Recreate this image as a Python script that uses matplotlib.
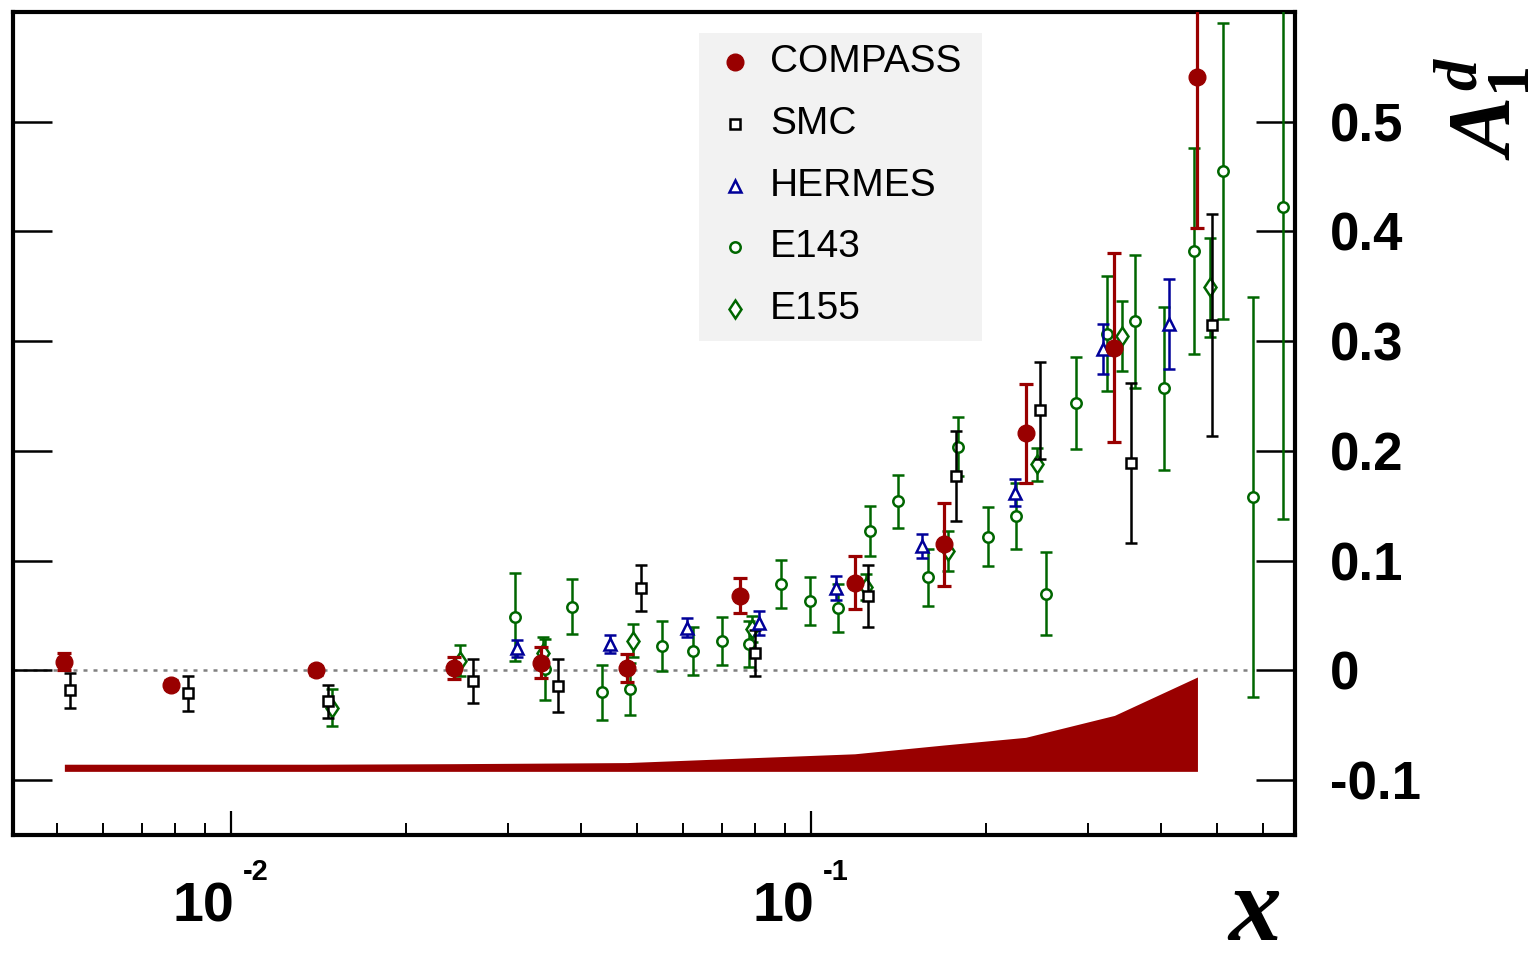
import matplotlib
matplotlib.use('Agg')
import matplotlib.pyplot as plt
import matplotlib.transforms as mtransforms
from matplotlib.patches import Rectangle

plt.rcParams['font.family'] = ['Liberation Sans', 'DejaVu Sans']
plt.rcParams['mathtext.fontset'] = 'custom'
plt.rcParams['mathtext.rm'] = 'Liberation Serif:bold'
plt.rcParams['mathtext.it'] = 'Liberation Serif:italic:bold'

# --- data ---
compass_x = [0.00515, 0.00788, 0.0140, 0.0242, 0.0342, 0.0481, 0.0752, 0.1187, 0.169, 0.234, 0.333, 0.463]
compass_y = [0.008, -0.013, 0.000, 0.002, 0.007, 0.002, 0.068, 0.080, 0.115, 0.216, 0.294, 0.541]
compass_err = [0.008, 0.004, 0.004, 0.010, 0.014, 0.013, 0.016, 0.024, 0.038, 0.045, 0.086, 0.138]
compass_sys = [0.0065, 0.0065, 0.0065, 0.007, 0.0075, 0.008, 0.012, 0.016, 0.024, 0.031, 0.051, 0.086]
sys_base = -0.092

smc_x = [0.00526, 0.00840, 0.01465, 0.0261, 0.0365, 0.0509, 0.0799, 0.125, 0.1772, 0.248, 0.356, 0.491]
smc_y = [-0.018, -0.021, -0.028, -0.010, -0.014, 0.075, 0.016, 0.068, 0.177, 0.237, 0.189, 0.315]
smc_err = [0.016, 0.016, 0.015, 0.020, 0.024, 0.021, 0.021, 0.028, 0.041, 0.044, 0.073, 0.101]

hermes_x = [0.0311, 0.0450, 0.0611, 0.0813, 0.1104, 0.155, 0.224, 0.318, 0.414]
hermes_y = [0.020, 0.024, 0.039, 0.043, 0.075, 0.113, 0.162, 0.293, 0.316]
hermes_err = [0.008, 0.008, 0.009, 0.011, 0.011, 0.011, 0.012, 0.023, 0.041]

e143_x = [0.0308, 0.0347, 0.0387, 0.0435, 0.0486, 0.0553, 0.0624, 0.0700, 0.0781, 0.0887,
          0.0996, 0.1113, 0.126, 0.141, 0.159, 0.1786, 0.2012, 0.225, 0.254, 0.2855,
          0.323, 0.362, 0.406, 0.457, 0.513, 0.578, 0.649]
e143_y = [0.049, 0.001, 0.058, -0.020, -0.017, 0.022, 0.018, 0.027, 0.024, 0.079,
          0.063, 0.057, 0.127, 0.154, 0.085, 0.204, 0.122, 0.141, 0.070, 0.244,
          0.307, 0.318, 0.257, 0.382, 0.455, 0.158, 0.422]
e143_err = [0.040, 0.028, 0.025, 0.025, 0.024, 0.023, 0.022, 0.022, 0.021, 0.022,
            0.022, 0.022, 0.023, 0.024, 0.026, 0.027, 0.027, 0.030, 0.038, 0.042,
            0.052, 0.061, 0.074, 0.094, 0.135, 0.182, 0.284]

e155_x = [0.0149, 0.0248, 0.0345, 0.0493, 0.0789, 0.124, 0.1722, 0.2449, 0.343, 0.487]
e155_y = [-0.034, 0.009, 0.016, 0.027, 0.038, 0.076, 0.109, 0.188, 0.305, 0.349]
e155_err = [0.017, 0.014, 0.014, 0.015, 0.012, 0.012, 0.018, 0.015, 0.032, 0.045]

yticks = [-0.1, 0, 0.1, 0.2, 0.3, 0.4, 0.5]
ytick_labels = ['-0.1', '0', '0.1', '0.2', '0.3', '0.4', '0.5']
xmajor = [0.01, 0.1]
xmajor_exp = ['-2', '-1']
xminor = [0.005, 0.006, 0.007, 0.008, 0.009,
          0.02, 0.03, 0.04, 0.05, 0.06, 0.07, 0.08, 0.09,
          0.2, 0.3, 0.4, 0.5, 0.6]

RED = '#990000'
GREEN = '#006600'
BLUE = '#000099'

W, H = 1539, 966
fig = plt.figure(figsize=(W / 100, H / 100), dpi=100)
ax = fig.add_axes([13 / W, 1 - 835 / H, (1295 - 13) / W, (835 - 12) / H])
ax.set_xscale('log')
ax.set_xlim(0.0042, 0.682)
ax.set_ylim(-0.15, 0.6)

# zero line
ax.plot([0.0042, 0.58], [0, 0], ls=(0, (1.6, 2.4)), color='#808080', lw=1.8, zorder=1)

# systematic band
ax.fill_between(compass_x, sys_base, [sys_base + s for s in compass_sys],
                color=RED, lw=0, zorder=2)

common = dict(elinewidth=1.8, capthick=1.8, capsize=4.4, mew=1.8, ls='none')
ax.errorbar(e143_x, e143_y, yerr=e143_err, fmt='o', ms=7.5, mfc='white', mec=GREEN,
            ecolor=GREEN, zorder=3, **common)
ax.errorbar(e155_x, e155_y, yerr=e155_err, fmt='d', ms=9.5, mfc='white', mec=GREEN,
            ecolor=GREEN, zorder=3, **common)
ax.errorbar(hermes_x, hermes_y, yerr=hermes_err, fmt='^', ms=8, mfc='white', mec=BLUE,
            ecolor=BLUE, zorder=4, **common)
ax.errorbar(smc_x, smc_y, yerr=smc_err, fmt='s', ms=7.5, mfc='white', mec='black',
            ecolor='black', zorder=4, **common)
ax.errorbar(compass_x, compass_y, yerr=compass_err, fmt='o', ms=12, color=RED,
            ecolor=RED, elinewidth=2.3, capthick=2.3, capsize=4.8, ls='none', zorder=5)

# axes styling
for sp in ax.spines.values():
    sp.set_linewidth(3)
ax.set_yticks(yticks, labels=ytick_labels)
ax.tick_params(axis='y', which='both', direction='in', left=True, right=True,
               labelleft=False, labelright=True, length=28, width=1.8, pad=25,
               labelsize=38)
for lab in ax.get_yticklabels():
    lab.set_fontweight('bold')
ax.set_xticks(xmajor, labels=['', ''])
ax.set_xticks(xminor, minor=True)
ax.set_xticklabels([], minor=True)
ax.tick_params(axis='x', which='major', direction='in', top=False, length=17, width=1.6)
ax.tick_params(axis='x', which='minor', direction='in', top=False, length=9, width=1.4)

# x tick labels 10^-n
base = mtransforms.blended_transform_factory(ax.transData, ax.transAxes)
for xv, ex in zip(xmajor, xmajor_exp):
    t1 = mtransforms.offset_copy(base, fig=fig, x=2, y=-62.5, units='points')
    ax.text(xv, 0, '10', transform=t1, ha='right', va='baseline', fontsize=40,
            fontweight='bold', clip_on=False)
    t2 = mtransforms.offset_copy(base, fig=fig, x=8.5, y=-32.5, units='points')
    ax.text(xv, 0, ex, transform=t2, ha='left', va='baseline', fontsize=21,
            fontweight='bold', clip_on=False)

# axis titles
fig.text(1255 / W, 1 - 963 / H, 'x', fontsize=76, family='Liberation Serif',
         fontweight='bold', style='italic', ha='center', va='bottom')
fig.text(1482 / W, 1 - 108 / H, r'$A_1^d$', fontsize=64, rotation=90,
         ha='center', va='center')

# legend
ax.add_patch(Rectangle((0.535, 0.600), 0.221, 0.3745, transform=ax.transAxes,
                       facecolor='#f2f2f2', edgecolor='none', zorder=6))
leg_names = ['COMPASS', 'SMC', 'HERMES', 'E143', 'E155']
leg_style = [dict(marker='o', ms=12, color=RED),
             dict(marker='s', ms=7.5, mfc='white', mec='black', mew=1.8),
             dict(marker='^', ms=8, mfc='white', mec=BLUE, mew=1.8),
             dict(marker='o', ms=7.5, mfc='white', mec=GREEN, mew=1.8),
             dict(marker='d', ms=9.5, mfc='white', mec=GREEN, mew=1.8)]
leg_rows = [0.9392, 0.8639, 0.7886, 0.7145, 0.6391]
for name, st, yr in zip(leg_names, leg_style, leg_rows):
    ax.plot([0.5632], [yr], transform=ax.transAxes, ls='none', zorder=7,
            clip_on=False, **st)
    ax.text(0.5905, yr, name, transform=ax.transAxes, fontsize=28,
            va='center', ha='left', zorder=7)

fig.savefig('out.png', dpi=100)
